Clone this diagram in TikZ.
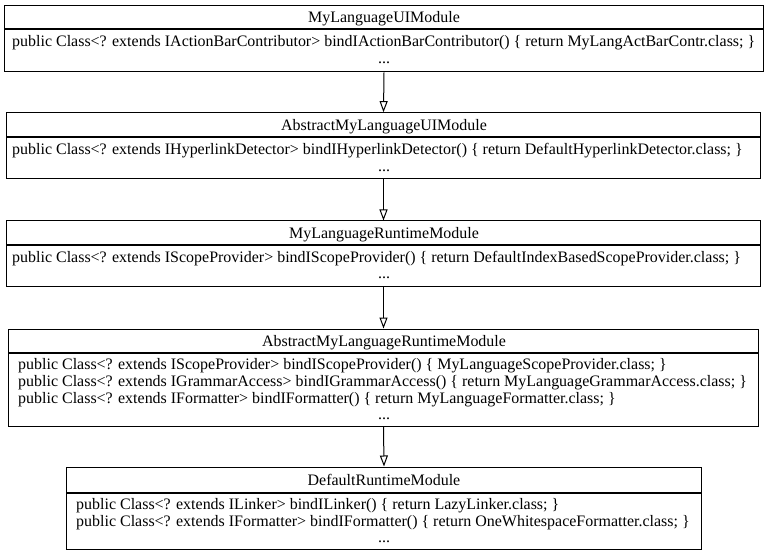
\documentclass[tikz,border=0pt]{standalone}
\usepackage{fontspec}
\setmainfont{Liberation Serif}
\newfontfamily\diagfont{Liberation Serif}
\usetikzlibrary{arrows.meta}
\newlength\calw
\def\fsz{14}
\AtBeginDocument{%
  \settowidth\calw{\diagfont\fontsize{10bp}{12bp}\selectfont public Class<? extends IActionBarContributor> bindIActionBarContributor() \{ return MyLangActBarContr.class; \}}%
  \pgfmathsetmacro\tmpfs{10*745.79/\calw}%
  \xdef\fsz{\tmpfs}%
}
\tikzset{
  box/.style={draw=black, line width=1bp, rectangle, inner sep=0pt, fill=white},
  txt/.style={inner sep=0pt, font=\diagfont\fontsize{\fsz bp}{17bp}\selectfont},
  inh/.style={draw=black, line width=1bp, -{Triangle[open,length=11bp,width=8bp,line width=1bp]}},
}
\begin{document}
\begin{tikzpicture}[x=1bp,y=-1bp]
\useasboundingbox (0,0) rectangle (768,553);
% Box 1
\node[box, minimum width=758bp, minimum height=23.5bp] (h1) at (384,17.25) {};
\node[box, minimum width=758bp, minimum height=42bp, anchor=north] (b1) at (h1.south) {};
\node[txt, anchor=base] (h1t) at (384,22.5) {MyLanguageUIModule};
\node[txt, anchor=base west] (b1l1) at (12,47) {public Class<? extends IActionBarContributor> bindIActionBarContributor() \{ return MyLangActBarContr.class; \}};
\node[txt, anchor=base] (b1d) at (384,64) {...};
% Box 2
\node[box, minimum width=753bp, minimum height=24.3bp] (h2) at (383.5,124.85) {};
\node[box, minimum width=753bp, minimum height=40.7bp, anchor=north] (b2) at (h2.south) {};
\node[txt, anchor=base] (h2t) at (384,130.5) {AbstractMyLanguageUIModule};
\node[txt, anchor=base west] (b2l1) at (12,155) {public Class<? extends IHyperlinkDetector> bindIHyperlinkDetector() \{ return DefaultHyperlinkDetector.class; \}};
\node[txt, anchor=base] (b2d) at (384,172) {...};
% Box 3
\node[box, minimum width=753bp, minimum height=24bp] (h3) at (383.5,233) {};
\node[box, minimum width=753bp, minimum height=40bp, anchor=north] (b3) at (h3.south) {};
\node[txt, anchor=base] (h3t) at (384,238.5) {MyLanguageRuntimeModule};
\node[txt, anchor=base west] (b3l1) at (12,263) {public Class<? extends IScopeProvider> bindIScopeProvider() \{ return DefaultIndexBasedScopeProvider.class; \}};
\node[txt, anchor=base] (b3d) at (384,279) {...};
% Box 4
\node[box, minimum width=749bp, minimum height=23bp] (h4) at (383.5,340.5) {};
\node[box, minimum width=749bp, minimum height=73bp, anchor=north] (b4) at (h4.south) {};
\node[txt, anchor=base] (h4t) at (384,346) {AbstractMyLanguageRuntimeModule};
\node[txt, anchor=base west] (b4l1) at (18,369) {public Class<? extends IScopeProvider> bindIScopeProvider() \{ MyLanguageScopeProvider.class; \}};
\node[txt, anchor=base west] (b4l2) at (18,386) {public Class<? extends IGrammarAccess> bindIGrammarAccess() \{ return MyLanguageGrammarAccess.class; \}};
\node[txt, anchor=base west] (b4l3) at (18,403) {public Class<? extends IFormatter> bindIFormatter() \{ return MyLanguageFormatter.class; \}};
\node[txt, anchor=base] (b4d) at (384,419) {...};
% Box 5
\node[box, minimum width=634bp, minimum height=25bp] (h5) at (384,479.5) {};
\node[box, minimum width=634bp, minimum height=56bp, anchor=north] (b5) at (h5.south) {};
\node[txt, anchor=base] (h5t) at (384,485.5) {DefaultRuntimeModule};
\node[txt, anchor=base west] (b5l1) at (76,509) {public Class<? extends ILinker> bindILinker() \{ return LazyLinker.class; \}};
\node[txt, anchor=base west] (b5l2) at (76,526) {public Class<? extends IFormatter> bindIFormatter() \{ return OneWhitespaceFormatter.class; \}};
\node[txt, anchor=base] (b5d) at (384,542) {...};
% Connectors
\draw[inh] (b1.south) -- (h2.north);
\draw[inh] (b2.south) -- (h3.north);
\draw[inh] (b3.south) -- (h4.north);
\draw[inh] (b4.south) -- (h5.north);
\end{tikzpicture}
\end{document}
